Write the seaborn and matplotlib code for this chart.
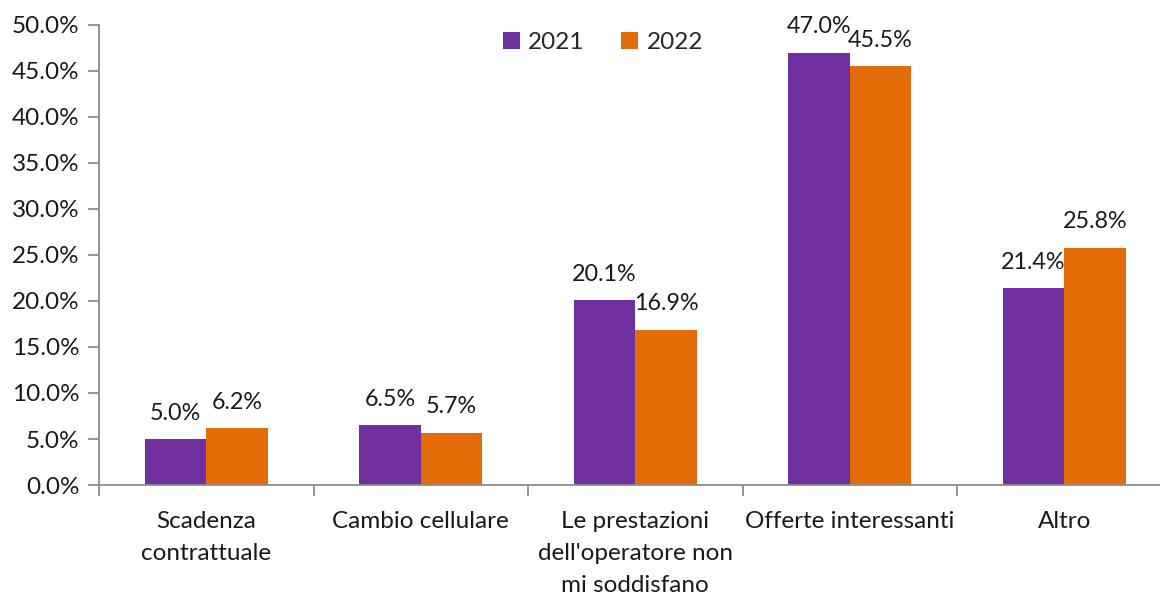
import matplotlib
matplotlib.use("Agg")
import matplotlib.pyplot as plt
import seaborn as sns
import pandas as pd
from matplotlib.ticker import FuncFormatter, MultipleLocator

categories = [
    "Scadenza\ncontrattuale",
    "Cambio cellulare",
    "Le prestazioni\ndell'operatore non\nmi soddisfano",
    "Offerte interessanti",
    "Altro",
]
years = ["2021", "2022"]
values_2021 = [5.0, 6.5, 20.1, 47.0, 21.4]
values_2022 = [6.2, 5.7, 16.9, 45.5, 25.8]
colors = ["#7030A0", "#E36C09"]

df = pd.DataFrame({
    "categoria": categories * 2,
    "anno": [years[0]] * len(categories) + [years[1]] * len(categories),
    "valore": values_2021 + values_2022,
})

sns.set_style("white")
plt.rcParams["font.family"] = ["Lato", "DejaVu Sans"]
FS = 17.5

fig = plt.figure(figsize=(11.6, 5.96), dpi=100)
ax = fig.add_axes([99 / 1160, 1 - 485 / 596, (1171.5 - 99) / 1160, (485 - 25) / 596])

sns.barplot(data=df, x="categoria", y="valore", hue="anno", order=categories,
            hue_order=years, palette=colors, width=0.574, saturation=1,
            edgecolor="none", ax=ax)

for cont in ax.containers:
    ax.bar_label(cont, labels=[f"{v:.1f}%" for v in cont.datavalues],
                 padding=11, fontsize=FS - 0.7, color="#1a1a1a")

ax.set_ylim(0, 50)
ax.set_xlim(-0.5, len(categories) - 0.5)
ax.yaxis.set_major_locator(MultipleLocator(5))
ax.yaxis.set_major_formatter(FuncFormatter(lambda v, p: f"{v:.1f}%"))
ax.set_xlabel("")
ax.set_ylabel("")

# category labels centred, ticks on category boundaries
ax.set_xticks(range(len(categories)))
ax.set_xticklabels(categories, fontsize=FS, linespacing=1.65, color="#1a1a1a")
ax.tick_params(axis="x", which="major", length=0, pad=19, bottom=True)
ax.set_xticks([i - 0.5 for i in range(len(categories) + 1)], minor=True)
ax.tick_params(axis="x", which="minor", length=8, width=1.3, color="#8c8c8c",
               direction="out", bottom=True)
ax.tick_params(axis="y", length=8, width=1.3, color="#8c8c8c", direction="out",
               labelsize=FS, labelcolor="#1a1a1a", pad=6, left=True)

for s in ["top", "right"]:
    ax.spines[s].set_visible(False)
for s in ["left", "bottom"]:
    ax.spines[s].set_color("#8c8c8c")
    ax.spines[s].set_linewidth(1.3)

leg = ax.legend(loc="upper center", bbox_to_anchor=(603 / 1160, 1 - 10 / 596),
                bbox_transform=fig.transFigure, ncol=2, frameon=False,
                fontsize=FS, handlelength=0.7, handleheight=0.7,
                handletextpad=0.35, columnspacing=1.5)

fig.savefig("out.png", dpi=100)
